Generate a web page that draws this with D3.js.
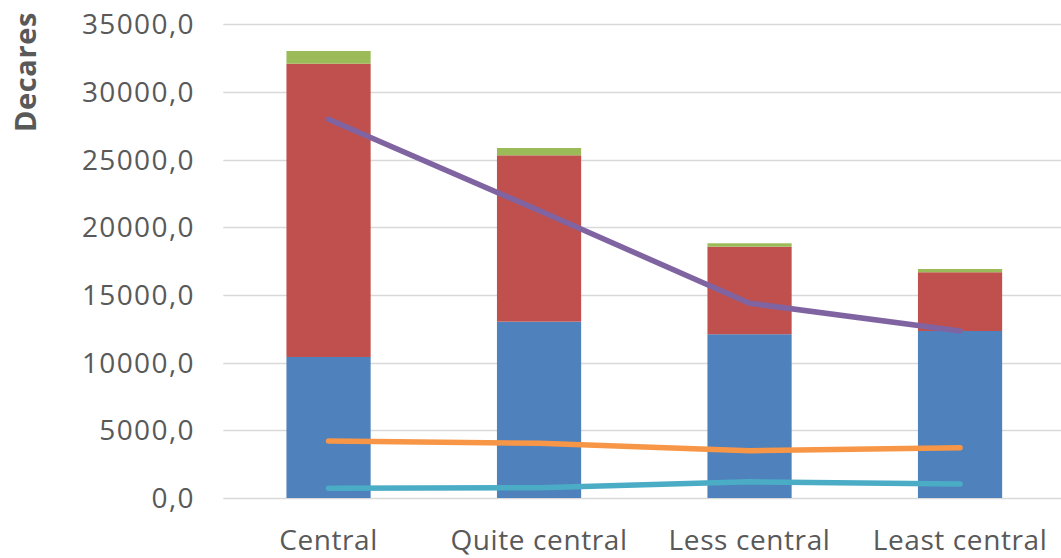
<!DOCTYPE html>
<html>
<head>
<meta charset="utf-8">
<script src="https://cdn.jsdelivr.net/npm/d3@7"></script>
<style>
  html, body { margin: 0; padding: 0; background: #ffffff; overflow: hidden; }
  svg { display: block; }
</style>
</head>
<body>
<svg id="chart" width="1061" height="558"></svg>
<script>
const categories = ["Central", "Quite central", "Less central", "Least central"];
const barBlue = [10420, 13030, 12100, 12340];
const barRed = [21670, 12290, 6470, 4340];
const barGreen = [940, 540, 250, 240];
const linePurple = [27980, 21240, 14390, 12340];
const lineOrange = [4210, 4040, 3500, 3720];
const lineTeal = [720, 760, 1200, 1030];
const yTicks = [0, 5000, 10000, 15000, 20000, 25000, 30000, 35000];
const yTitle = "Decares";

const stackSeries = [
  { key: "blue", values: barBlue, color: "#4f81bd" },
  { key: "red", values: barRed, color: "#c0504d" },
  { key: "green", values: barGreen, color: "#9bbb59" }
];
const lineSeries = [
  { key: "purple", values: linePurple, color: "#8064a2" },
  { key: "orange", values: lineOrange, color: "#f79646" },
  { key: "teal", values: lineTeal, color: "#4bacc6" }
];

const svg = d3.select("#chart");
const plotLeft = 223.3, plotBottom = 498, plotTop = 24.3;
const x = d3.scaleBand().domain(categories).range([plotLeft, plotLeft + 4 * 210.5]).padding(0);
const y = d3.scaleLinear().domain([0, 35000]).range([plotBottom, plotTop]);

// gridlines
svg.append("g").selectAll("line").data(yTicks).join("line")
  .attr("x1", plotLeft).attr("x2", 1061)
  .attr("y1", d => Math.round(y(d)) + 0.5).attr("y2", d => Math.round(y(d)) + 0.5)
  .attr("stroke", "#d9d9d9").attr("stroke-width", 1.3);

// y axis labels
const fmt = d => d3.format(".1f")(d).replace(".", ",");
svg.append("g").selectAll("text").data(yTicks).join("text")
  .attr("x", 195).attr("y", d => y(d))
  .attr("dy", "0.36em")
  .attr("text-anchor", "end")
  .attr("font-family", "Open Sans")
  .attr("font-size", 28)
  .attr("letter-spacing", 1.4)
  .attr("fill", "#595959")
  .text(fmt);

// y title
svg.append("text")
  .attr("transform", "translate(36,72) rotate(-90)")
  .attr("text-anchor", "middle")
  .attr("font-family", "Open Sans")
  .attr("font-weight", "bold")
  .attr("font-size", 29)
  .attr("letter-spacing", 0.6)
  .attr("fill", "#595959")
  .text(yTitle);

// stacked bars
const barW = x.bandwidth() * 0.4;
const cum = categories.map(() => 0);
stackSeries.forEach(s => {
  const g = svg.append("g");
  categories.forEach((c, i) => {
    const y0 = cum[i], y1 = cum[i] + s.values[i];
    cum[i] = y1;
    g.append("rect")
      .attr("x", x(c) + x.bandwidth() / 2 - barW / 2)
      .attr("width", barW)
      .attr("y", y(y1))
      .attr("height", y(y0) - y(y1))
      .attr("fill", s.color);
  });
});

// lines
const line = d3.line()
  .x((d, i) => x(categories[i]) + x.bandwidth() / 2)
  .y(d => y(d));
lineSeries.forEach(s => {
  svg.append("path")
    .datum(s.values)
    .attr("d", line)
    .attr("fill", "none")
    .attr("stroke", s.color)
    .attr("stroke-width", 5.5)
    .attr("stroke-linecap", "round")
    .attr("stroke-linejoin", "round");
});

// category labels
svg.append("g").selectAll("text").data(categories).join("text")
  .attr("x", d => x(d) + x.bandwidth() / 2)
  .attr("y", 550)
  .attr("text-anchor", "middle")
  .attr("font-family", "Open Sans")
  .attr("font-size", 28)
  .attr("letter-spacing", 0.6)
  .attr("fill", "#595959")
  .text(d => d);
</script>
</body>
</html>
